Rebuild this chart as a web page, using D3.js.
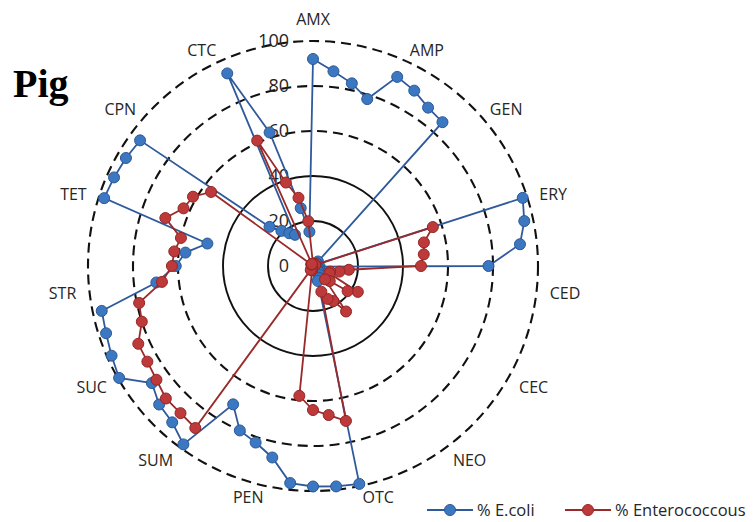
<!DOCTYPE html>
<html>
<head>
<meta charset="utf-8">
<script src="https://cdn.jsdelivr.net/npm/d3@7"></script>
<style>
  html, body { margin: 0; padding: 0; background: #ffffff; }
  svg { display: block; }
</style>
</head>
<body>
<svg id="chart" width="756" height="522"></svg>
<script>
// ---- data ----
const drugs = ["AMX","AMP","GEN","ERY","CED","CEC","NEO","OTC","PEN","SUM","SUC","STR","TET","CPN","CTC"];
const pointsPerDrug = 4;
const ecoli = [
  92, 87, 83, 78,      // AMX
  92, 90, 87, 86,      // AMP
  3, 2, 2, 2,          // GEN
  98, 96, 92.5, 78,    // ERY
  3, 2, 2, 3,          // CED
  3, 4, 3, 4,          // CEC
  5, 6, 6, 7,          // NEO
  99, 98.5, 98, 97,    // OTC
  87, 82.5, 80, 71,    // PEN
  98, 93.5, 92, 88.5,  // SUM
  99.5, 98, 96.7, 96,  // SUC
  70, 61, 57, 48,      // STR
  97.6, 96.8, 96, 95,  // TET
  26, 21, 18, 16,      // CPN
  93.7, 62.4, 26.3, 15.3 // CTC
];
const entero = [
  1, 1, 1, 1,          // AMX
  1, 1, 1, 1,          // AMP
  1, 1, 1, 1,          // GEN
  56, 50.4, 49.5, 48,  // ERY
  16, 12, 8, 8,        // CED
  23, 19, 10, 8,       // CEC
  25, 18, 16, 12,      // NEO
  70.4, 66.6, 64, 58,  // OTC
  2, 1, 1, 2,          // PEN
  89, 88, 88, 86,      // SUM
  85, 85, 80, 79,      // SUC
  67.5, 62.7, 62, 60,  // STR
  69, 63, 61.6, 56,    // TET
  1, 1, 1, 1,          // CPN
  61, 39, 31, 20       // CTC
];
const ticks = [0, 20, 40, 60, 80, 100];
const solidRings = [20, 40];
const dashedRings = [60, 80, 100];
const seriesNames = ["% E.coli", "% Enterococcous"];

// ---- layout ----
const cx = 313, cy = 266;
const svg = d3.select("#chart");
const g = svg.append("g").attr("transform", `translate(${cx},${cy})`);

const nCat = drugs.length * pointsPerDrug;
const rScale = d3.scaleLinear().domain([0, 100]).range([0, 225]);
const aScale = d3.scaleLinear().domain([0, nCat]).range([0, 2 * Math.PI]);

// rings
g.selectAll("circle.solid").data(solidRings).enter().append("circle")
  .attr("r", d => rScale(d)).attr("fill", "none")
  .attr("stroke", "#111").attr("stroke-width", 1.9);
g.selectAll("circle.dashed").data(dashedRings).enter().append("circle")
  .attr("r", d => rScale(d)).attr("fill", "none")
  .attr("stroke", "#111").attr("stroke-width", 2.1)
  .attr("stroke-dasharray", "10,6");

// tick labels
g.selectAll("text.tick").data(ticks).enter().append("text")
  .attr("x", -24).attr("y", d => -rScale(d))
  .attr("dy", "0.36em")
  .attr("text-anchor", "end")
  .attr("font-family", "Open Sans, sans-serif")
  .attr("font-size", 18)
  .attr("fill", "#262626")
  .text(d => d);

// category labels
const labelR = 238;
drugs.forEach((name, i) => {
  const a = aScale(i * pointsPerDrug);
  const s = Math.sin(a), c = Math.cos(a);
  let r = labelR, anchor = "middle";
  if (s > 0.1) anchor = "start"; else if (s < -0.1) anchor = "end";
  if (anchor === "middle") r = 249;
  let x = r * s, y = -r * c;
  if (Math.abs(s) < 0.35 && c < 0) y -= 4;
  g.append("text")
    .attr("x", x).attr("y", y + 2)
    .attr("dy", "0.36em")
    .attr("text-anchor", anchor)
    .attr("font-family", "Open Sans, sans-serif")
    .attr("font-size", 16)
    .attr("fill", "#262626")
    .text(name);
});

// series
const series = [
  { name: seriesNames[0], values: ecoli, line: "#2E5A9C", fill: "#3C78C2", stroke: "#2B5894" },
  { name: seriesNames[1], values: entero, line: "#9A2A2A", fill: "#BE3A3A", stroke: "#932626" }
];
const radial = d3.lineRadial()
  .angle((d, i) => aScale(i))
  .radius(d => rScale(d))
  .curve(d3.curveLinearClosed);

series.forEach(s => {
  const sg = g.append("g");
  sg.append("path").attr("d", radial(s.values))
    .attr("fill", "none").attr("stroke", s.line).attr("stroke-width", 1.8);
  sg.selectAll("circle").data(s.values).enter().append("circle")
    .attr("cx", (d, i) => rScale(d) * Math.sin(aScale(i)))
    .attr("cy", (d, i) => -rScale(d) * Math.cos(aScale(i)))
    .attr("r", 5.5)
    .attr("fill", s.fill).attr("stroke", s.stroke).attr("stroke-width", 1);
});

// title
svg.append("text").attr("x", 13).attr("y", 97)
  .attr("font-family", "Liberation Serif, Times New Roman, serif")
  .attr("font-weight", "bold").attr("font-size", 40)
  .attr("fill", "#000").text("Pig");

// legend
const legend = [
  { x: 427, tx: 477, s: series[0] },
  { x: 565, tx: 615, s: series[1] }
];
const ly = 510;
legend.forEach(l => {
  const lg = svg.append("g");
  lg.append("line").attr("x1", l.x).attr("x2", l.x + 46).attr("y1", ly).attr("y2", ly)
    .attr("stroke", l.s.line).attr("stroke-width", 1.9);
  lg.append("circle").attr("cx", l.x + 23).attr("cy", ly).attr("r", 5.5)
    .attr("fill", l.s.fill).attr("stroke", l.s.stroke).attr("stroke-width", 1);
  lg.append("text").attr("x", l.tx).attr("y", ly).attr("dy", "0.36em")
    .attr("font-family", "Open Sans, sans-serif").attr("font-size", 16.5)
    .attr("fill", "#262626").text(l.s.name);
});
</script>
</body>
</html>
